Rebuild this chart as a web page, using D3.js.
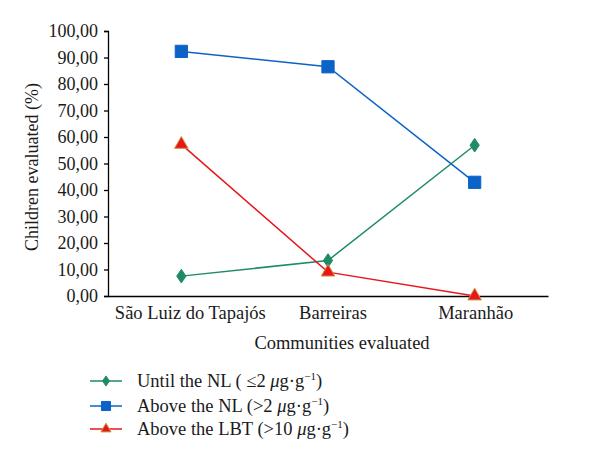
<!DOCTYPE html>
<html><head><meta charset="utf-8">
<script src="https://cdn.jsdelivr.net/npm/d3@7"></script>
<style>body{margin:0;background:#fff}svg{display:block}</style>
</head><body>
<svg id="c" width="600" height="463"></svg>
<script>
const categories = ["São Luiz do Tapajós", "Barreiras", "Maranhão"];
const untilNL = [7.5, 13.4, 56.9];
const aboveNL = [92.3, 86.5, 42.9];
const aboveLBT = [57.2, 9.0, 0.0];
const yTicks = [0,10,20,30,40,50,60,70,80,90,100];
const seriesNames = ["Until the NL", "Above the NL", "Above the LBT"];

const FONT = "'Liberation Serif', 'DejaVu Serif', serif";
const svg = d3.select("#c");
const L = 108, R = 548, T = 31, B = 296;
const x = d3.scaleBand().domain(categories).range([L, R]);
const y = d3.scaleLinear().domain([0, 100]).range([B, T]);
const fmt = d => d3.format(".2f")(d).replace(".", ",");

const yAxis = svg.append("g").attr("transform", `translate(${L},0)`)
  .call(d3.axisLeft(y).tickValues(yTicks).tickFormat(fmt).tickSize(4).tickPadding(6));
yAxis.attr("font-family", null).attr("font-size", null);
yAxis.select(".domain").attr("stroke", "#000").attr("stroke-width", 1.3);
yAxis.selectAll(".tick line").attr("stroke", "#000").attr("stroke-width", 1.3);
yAxis.selectAll("text").style("font-family", FONT).style("font-size", "18px").attr("fill", "#1a1a1a");

const xAxis = svg.append("g").attr("transform", `translate(0,${B})`)
  .call(d3.axisBottom(x).tickSize(0).tickPadding(10));
xAxis.attr("font-family", null).attr("font-size", null);
xAxis.select(".domain").attr("stroke", "#000").attr("stroke-width", 1.3);
xAxis.selectAll("text").style("font-family", FONT).style("font-size", "18.5px").attr("fill", "#1a1a1a")
  .attr("dx", (d, i) => [9, 5, 1][i]);

svg.append("text").attr("transform", `translate(38,167) rotate(-90)`)
  .attr("text-anchor", "middle").style("font-family", FONT).style("font-size", "18px").attr("fill", "#1a1a1a")
  .text("Children evaluated (%)");
svg.append("text").attr("x", 342).attr("y", 349).attr("text-anchor", "middle")
  .style("font-family", FONT).style("font-size", "18.5px").attr("fill", "#1a1a1a").text("Communities evaluated");

const series = [
  {name: seriesNames[0], vals: untilNL, color: "#1f8a67", sym: d3.symbolDiamond, size: 75, stroke: "#1f8a67"},
  {name: seriesNames[1], vals: aboveNL, color: "#0b63c8", sym: d3.symbolSquare, size: 150, stroke: "#0b63c8"},
  {name: seriesNames[2], vals: aboveLBT, color: "#e8161c", sym: d3.symbolTriangle, size: 80, stroke: "#c89a3a"}
];
const cx = c => x(c) + x.bandwidth() / 2;
const line = d3.line().x((d, i) => cx(categories[i])).y(d => y(d));

series.forEach(s => {
  svg.append("path").attr("d", line(s.vals)).attr("fill", "none")
    .attr("stroke", s.color).attr("stroke-width", 1.5);
});
series.forEach(s => {
  svg.selectAll(null).data(s.vals).enter().append("path")
    .attr("d", d3.symbol().type(s.sym).size(s.size))
    .attr("transform", (d, i) => `translate(${cx(categories[i])},${y(d)})` + (s.sym === d3.symbolDiamond ? " scale(1,0.85)" : ""))
    .attr("fill", s.color).attr("stroke", s.stroke).attr("stroke-width", 1);
});

// legend
const legendLabels = [
  ["Until the NL ( ≤2 ", "μ", "g·g", "−1", ")"],
  ["Above the NL (>2 ", "μ", "g·g", "−1", ")"],
  ["Above the LBT (>10 ", "μ", "g·g", "−1", ")"]
];
const legY = [381, 406, 429];
series.forEach((s, i) => {
  const g = svg.append("g").attr("transform", `translate(0,${legY[i]})`);
  g.append("line").attr("x1", 90).attr("x2", 122).attr("y1", 0).attr("y2", 0)
    .attr("stroke", s.color).attr("stroke-width", 1.5);
  g.append("path").attr("d", d3.symbol().type(s.sym).size(s.size * 0.55))
    .attr("transform", `translate(106,0)` + (s.sym === d3.symbolDiamond ? " scale(1,0.85)" : ""))
    .attr("fill", s.color).attr("stroke", s.stroke).attr("stroke-width", 1);
  const t = g.append("text").attr("x", 137).attr("y", 6).style("font-family", FONT)
    .style("font-size", "18.5px").attr("fill", "#1a1a1a");
  const p = legendLabels[i];
  t.append("tspan").text(p[0]);
  t.append("tspan").style("font-style", "italic").text(p[1]);
  t.append("tspan").text(p[2]);
  t.append("tspan").attr("dy", -7).style("font-size", "11px").text(p[3]);
  t.append("tspan").attr("dy", 7).text(p[4]);
});
</script>
</body></html>
